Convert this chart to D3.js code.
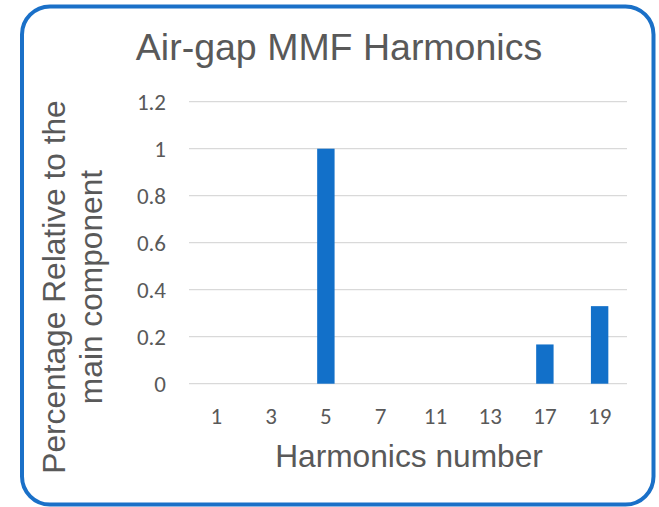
<!DOCTYPE html>
<html>
<head>
<meta charset="utf-8">
<script src="https://cdn.jsdelivr.net/npm/d3@7"></script>
<style>
  html, body { margin: 0; padding: 0; background: #ffffff; }
  svg { display: block; }
  .tick-label { font-family: Carlito, Lato, 'Open Sans', sans-serif; font-size: 23px; }
</style>
</head>
<body>
<svg id="chart" width="659" height="507"></svg>
<script>
const categories = ["1", "3", "5", "7", "11", "13", "17", "19"];
const values = [0, 0, 1, 0, 0, 0, 0.167, 0.33];
const yTicks = [0, 0.2, 0.4, 0.6, 0.8, 1, 1.2];
const chartTitle = "Air-gap MMF Harmonics";
const xTitle = "Harmonics number";
const yTitleLines = ["Percentage Relative to the", "main component"];

const svg = d3.select("#chart");
const W = 659, H = 507;
const plot = { left: 189, right: 627, top: 101.7, bottom: 383.7 };
const textColor = "#595959";
const barColor = "#1270c9";

svg.append("rect").attr("width", W).attr("height", H).attr("fill", "#fff");

// rounded border
svg.append("rect")
  .attr("x", 22).attr("y", 6.5)
  .attr("width", 631.5).attr("height", 498)
  .attr("rx", 28).attr("ry", 28)
  .attr("fill", "none")
  .attr("stroke", "#1a70c8")
  .attr("stroke-width", 4);

const x = d3.scaleBand().domain(categories).range([plot.left, plot.right]).paddingInner(0).paddingOuter(0);
const y = d3.scaleLinear().domain([0, 1.2]).range([plot.bottom, plot.top]);

// gridlines
svg.append("g").selectAll("line").data(yTicks).join("line")
  .attr("x1", plot.left).attr("x2", plot.right)
  .attr("y1", d => y(d)).attr("y2", d => y(d))
  .attr("stroke", "#d9d9d9").attr("stroke-width", 1.3);

const tickFont = "Carlito, Lato, 'Open Sans', sans-serif";

// y tick labels
const yAxis = d3.axisLeft(y).tickValues(yTicks).tickFormat(d => d3.format("")(+d.toFixed(1))).tickSize(0).tickPadding(0);
const gy = svg.append("g").attr("transform", `translate(166,0)`).call(yAxis)
  .attr("font-family", tickFont).attr("font-size", 23);
gy.select(".domain").remove();
gy.selectAll("text")
  .attr("class", "tick-label")
  .attr("fill", textColor)
  .attr("dy", "0.35em");

// x tick labels
const xAxis = d3.axisBottom(x).tickSize(0).tickPadding(0);
const gx = svg.append("g").attr("transform", `translate(0,${plot.bottom})`).call(xAxis)
  .attr("font-family", tickFont).attr("font-size", 23);
gx.select(".domain").remove();
gx.selectAll("text")
  .attr("class", "tick-label")
  .attr("fill", textColor)
  .attr("y", 40).attr("dy", 0);

// bars
const barFrac = 0.318;
const bw = x.bandwidth() * barFrac;
svg.append("g").selectAll("rect").data(values.map((v, i) => ({ c: categories[i], v })))
  .join("rect")
  .attr("x", d => x(d.c) + (x.bandwidth() - bw) / 2)
  .attr("width", bw)
  .attr("y", d => y(d.v))
  .attr("height", d => y(0) - y(d.v))
  .attr("fill", barColor);

// title
svg.append("text")
  .attr("x", 339).attr("y", 60)
  .attr("text-anchor", "middle")
  .attr("fill", textColor)
  .style("font-family", "'Liberation Sans', Arial, sans-serif")
  .style("font-size", "37.5px")
  .text(chartTitle);

// x title
svg.append("text")
  .attr("x", 409).attr("y", 467.3)
  .attr("text-anchor", "middle")
  .attr("fill", textColor)
  .style("font-family", "'Liberation Sans', Arial, sans-serif")
  .style("font-size", "31.7px")
  .text(xTitle);

// y title (two lines, rotated)
const yBaselines = [65, 101.7];
yTitleLines.forEach((line, i) => {
  svg.append("text")
    .attr("transform", `translate(${yBaselines[i]},287) rotate(-90)`)
    .attr("text-anchor", "middle")
    .attr("fill", textColor)
    .style("font-family", "'Liberation Sans', Arial, sans-serif")
    .style("font-size", "31.7px")
    .text(line);
});
</script>
</body>
</html>
